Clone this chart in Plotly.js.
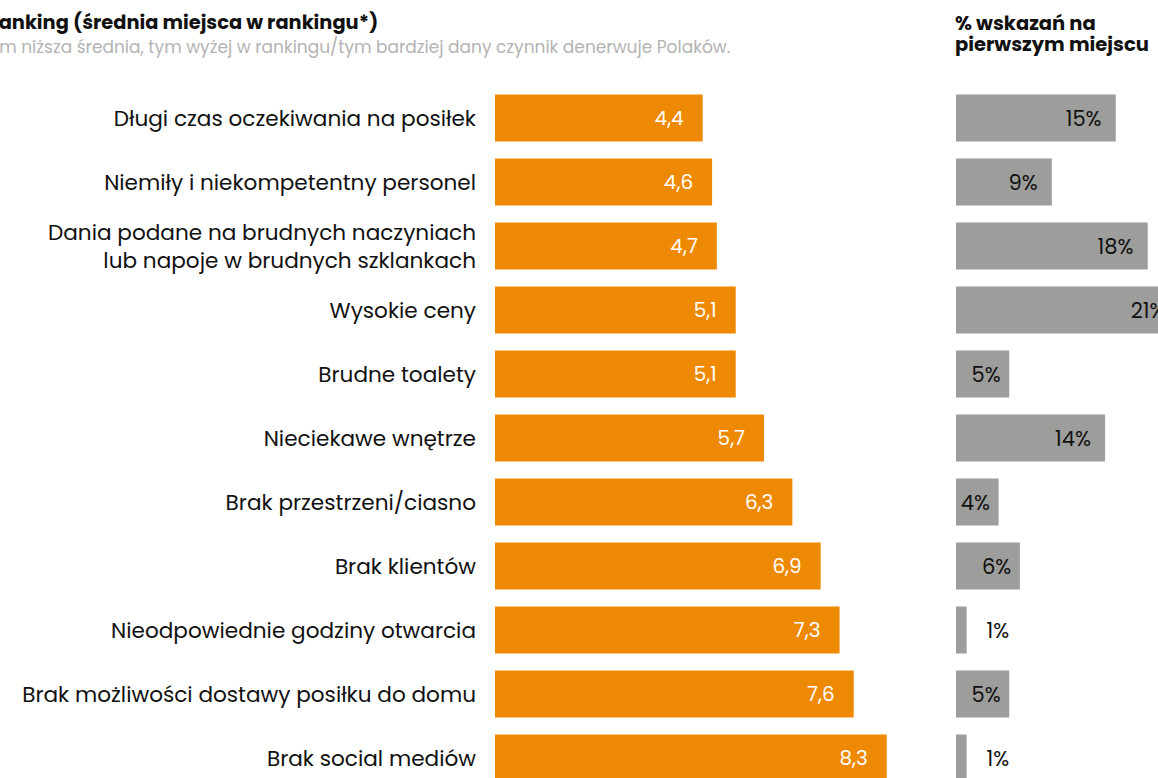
<!DOCTYPE html>
<html>
<head>
<meta charset="utf-8">
<script src="https://cdn.plot.ly/plotly-3.0.1.min.js"></script>
<style>html,body{margin:0;padding:0;background:#fff;}#chart{width:1158px;height:778px;}</style>
</head>
<body>
<div id="chart"></div>
<script>
const categories = [
  "Długi czas oczekiwania na posiłek",
  "Niemiły i niekompetentny personel",
  "Dania podane na brudnych naczyniach<br>lub napoje w brudnych szklankach",
  "Wysokie ceny",
  "Brudne toalety",
  "Nieciekawe wnętrze",
  "Brak przestrzeni/ciasno",
  "Brak klientów",
  "Nieodpowiednie godziny otwarcia",
  "Brak możliwości dostawy posiłku do domu",
  "Brak social mediów"
];
const rankingAvg = [4.4, 4.6, 4.7, 5.1, 5.1, 5.7, 6.3, 6.9, 7.3, 7.6, 8.3];
const firstPlacePct = [15, 9, 18, 21, 5, 14, 4, 6, 1, 5, 1];

const titleText = "Ranking (średnia miejsca w rankingu*)";
const subtitleText = "Im niższa średnia, tym wyżej w rankingu/tym bardziej dany czynnik denerwuje Polaków.";
const rightHeaderLine1 = "% wskazań na";
const rightHeaderLine2 = "pierwszym miejscu";

const W = 1158, H = 778;
const ML = 495, MT = 86;
const PW = W - ML, PH = H - MT;
const px2x = p => (p - ML) / PW;
const py2y = p => (H - p) / PH;

const FONT = "Poppins, 'Open Sans', sans-serif";
const NB = "\u00a0";

const grayPos = firstPlacePct.map(v => v < 3 ? "outside" : "inside");
const grayTpl = firstPlacePct.map(v =>
  v < 3 ? NB + NB + NB + "%{x}%" : (v < 8 ? "%{x}%" + NB : "%{x}%" + NB + NB));

const traces = [
  {
    type: "bar", orientation: "h",
    x: rankingAvg, y: categories,
    xaxis: "x", yaxis: "y",
    marker: {color: "#EE8903"},
    width: 0.734,
    texttemplate: "%{x:.1f}" + NB + NB + NB,
    textposition: "inside",
    insidetextanchor: "end",
    constraintext: "none",
    textangle: 0,
    textfont: {family: FONT, size: 20, color: "#ffffff"},
    hoverinfo: "skip"
  },
  {
    type: "bar", orientation: "h",
    x: firstPlacePct, y: categories,
    xaxis: "x2", yaxis: "y",
    marker: {color: "#9D9D9C"},
    width: 0.734,
    texttemplate: grayTpl,
    textposition: grayPos,
    insidetextanchor: "end",
    constraintext: "none",
    textangle: 0,
    cliponaxis: true,
    textfont: {family: FONT, size: 21, color: "#111111"},
    outsidetextfont: {family: FONT, size: 21, color: "#111111"},
    hoverinfo: "skip"
  }
];

const layout = {
  width: W, height: H,
  margin: {l: ML, r: 0, t: MT, b: 0, pad: 0},
  paper_bgcolor: "#ffffff", plot_bgcolor: "#ffffff",
  showlegend: false,
  separators: ", ",
  font: {family: FONT, color: "#111111"},
  xaxis: {
    domain: [0, px2x(905)], range: [0, (905 - ML) / 47.2],
    visible: false, fixedrange: true
  },
  xaxis2: {
    domain: [px2x(956), 1], range: [0, (W - 956) / 10.65],
    visible: false, fixedrange: true, anchor: "y"
  },
  yaxis: {
    type: "category",
    categoryorder: "array", categoryarray: categories,
    range: [-0.5 + PH / 64, -0.5],
    showgrid: false, zeroline: false, showline: false,
    ticks: "", ticklabelstandoff: 18,
    tickfont: {family: FONT, size: 21.6, color: "#111111"},
    fixedrange: true
  },
  annotations: [
    {text: "<b>" + titleText + "</b>", xref: "paper", yref: "paper",
     x: px2x(-16), y: py2y(22), xanchor: "left", yanchor: "middle",
     showarrow: false, font: {family: FONT, size: 19.4, color: "#111111"}},
    {text: subtitleText, xref: "paper", yref: "paper",
     x: px2x(-7), y: py2y(47), xanchor: "left", yanchor: "middle",
     showarrow: false, font: {family: FONT, size: 17, color: "#B3B3B3"}},
    {text: "<b>" + rightHeaderLine1 + "</b>", xref: "paper", yref: "paper",
     x: px2x(953), y: py2y(23), xanchor: "left", yanchor: "middle", align: "left",
     showarrow: false, font: {family: FONT, size: 19.5, color: "#111111"}},
    {text: "<b>" + rightHeaderLine2 + "</b>", xref: "paper", yref: "paper",
     x: px2x(953), y: py2y(45), xanchor: "left", yanchor: "middle", align: "left",
     showarrow: false, font: {family: FONT, size: 19.5, color: "#111111"}}
  ]
};

Plotly.newPlot("chart", traces, layout, {displayModeBar: false, staticPlot: true});
</script>
</body>
</html>
